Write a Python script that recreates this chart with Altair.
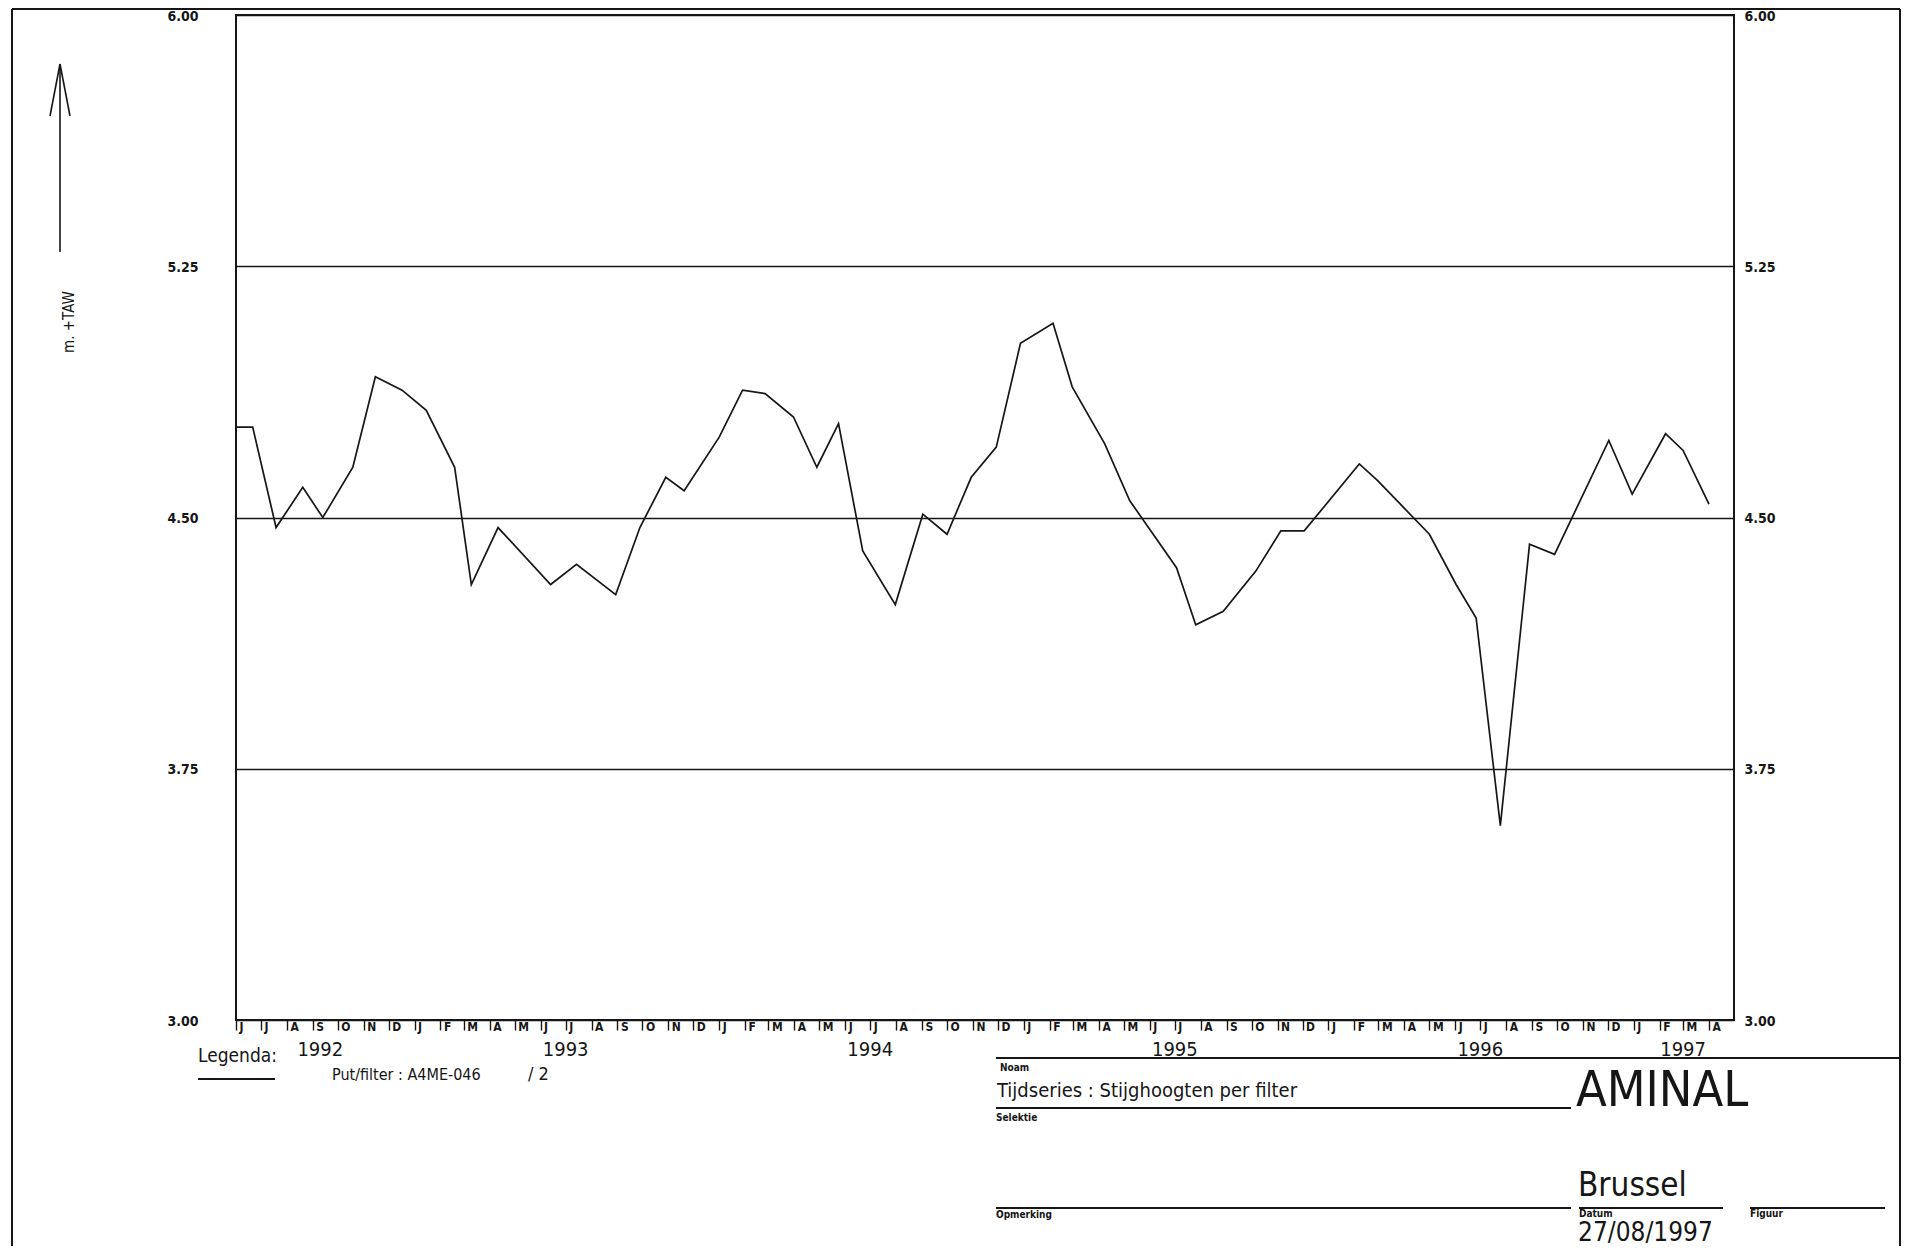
import json
import altair as alt
import pandas as pd

# ---------------- data ----------------
DATES = [
    "1992-06-01", "1992-06-21", "1992-07-19", "1992-08-20", "1992-09-13",
    "1992-10-19", "1992-11-15", "1992-12-17", "1993-01-15", "1993-02-18",
    "1993-03-10", "1993-04-11", "1993-06-13", "1993-07-14", "1993-08-30",
    "1993-09-28", "1993-10-29", "1993-11-20", "1994-01-01", "1994-01-29",
    "1994-02-25", "1994-03-31", "1994-04-28", "1994-05-24", "1994-06-22",
    "1994-07-31", "1994-09-02", "1994-10-01", "1994-10-30", "1994-11-29",
    "1994-12-28", "1995-02-05", "1995-02-28", "1995-04-08", "1995-05-08",
    "1995-07-03", "1995-07-26", "1995-08-28", "1995-10-06", "1995-11-05",
    "1995-12-03", "1996-02-07", "1996-02-29", "1996-03-31", "1996-05-01",
    "1996-06-02", "1996-06-26", "1996-07-25", "1996-08-29", "1996-09-28",
    "1996-12-02", "1996-12-30", "1997-02-08", "1997-03-01", "1997-04-01",
]
LEVELS = [
    4.77, 4.77, 4.47, 4.59, 4.50,
    4.65, 4.92, 4.88, 4.82, 4.65,
    4.30, 4.47, 4.30, 4.36, 4.27,
    4.47, 4.62, 4.58, 4.74, 4.88,
    4.87, 4.80, 4.65, 4.78, 4.40,
    4.24, 4.51, 4.45, 4.62, 4.71,
    5.02, 5.08, 4.89, 4.72, 4.55,
    4.35, 4.18, 4.22, 4.34, 4.46,
    4.46, 4.66, 4.61, 4.53, 4.45,
    4.30, 4.20, 3.58, 4.42, 4.39,
    4.73, 4.57, 4.75, 4.70, 4.54,
]
MONTH_LETTERS = ["J", "F", "M", "A", "M", "J", "J", "A", "S", "O", "N", "D"]
Y_TICKS = [3.00, 3.75, 4.50, 5.25, 6.00]
YEAR_LABELS = ["1992", "1993", "1994", "1995", "1996", "1997"]
YEAR_LABEL_AT = ["1992-09-10", "1993-07-01", "1994-07-01", "1995-07-01",
                 "1996-07-01", "1997-03-01"]
AXIS_START = (1992, 6)
AXIS_END = (1997, 5)

# ---------------- layout (page pixels) ----------------
INK = "#161616"
FONT = "Liberation Sans Narrow, DejaVu Sans Condensed, Arial Narrow, sans-serif"
PX0, PY0 = 236, 15          # page position of the plot's top-left corner
W, H = 1498, 1005
TOTAL_W, TOTAL_H = 1893, 1238
PAD = {"left": PX0 - 8, "top": PY0 - 8,
       "right": TOTAL_W - (PX0 - 8) - W, "bottom": TOTAL_H - (PY0 - 8) - H}


def px(x):
    return x - PX0


def py(y):
    return y - PY0


# month tick values
tick_values = []
y_, m_ = AXIS_START
while (y_, m_) < AXIS_END:
    tick_values.append(alt.DateTime(year=y_, month=m_, date=1, utc=True))
    m_ += 1
    if m_ > 12:
        m_, y_ = 1, y_ + 1

x_scale = alt.Scale(
    type="utc",
    domain=[alt.DateTime(year=AXIS_START[0], month=AXIS_START[1], date=1, utc=True),
            alt.DateTime(year=AXIS_END[0], month=AXIS_END[1], date=1, utc=True)],
)
y_scale = alt.Scale(domain=[3, 6], nice=False, zero=False)

df = pd.DataFrame({"date": DATES, "level": LEVELS})
years_df = pd.DataFrame({"date": YEAR_LABEL_AT, "label": YEAR_LABELS})

label_expr = json.dumps(MONTH_LETTERS) + "[utcmonth(datum.value)]"

X_AXIS = alt.Axis(values=tick_values, labelExpr=label_expr, orient="bottom",
                  tickSize=10, tickWidth=1.4, tickColor=INK,
                  labelPadding=-9, labelOffset=3, labelAlign="left",
                  labelBaseline="top",
                  labelFont=FONT, labelFontSize=12, labelFontWeight="bold",
                  labelColor=INK, labelOverlap=False, labelFlush=False,
                  domain=False, grid=False, title=None)


def x_enc():
    return alt.X("date:T", scale=x_scale, title=None, axis=X_AXIS)


line = alt.Chart(df).mark_line(color=INK, strokeWidth=1.7).encode(
    x=x_enc(),
    y=alt.Y("level:Q", scale=y_scale, title=None,
            axis=alt.Axis(values=Y_TICKS, format=".2f", orient="left", ticks=False,
                          tickSize=0, labelPadding=38, labelOffset=1,
                          labelFont=FONT, labelFontSize=14, labelFontWeight="bold",
                          labelColor=INK, domain=False, grid=True, gridColor=INK,
                          gridWidth=1.7, gridOpacity=1)),
)

right_axis = alt.Chart(df).mark_line(opacity=0).encode(
    x=x_enc(),
    y=alt.Y("level:Q", scale=y_scale, title=None,
            axis=alt.Axis(values=Y_TICKS, format=".2f", orient="right", ticks=False,
                          tickSize=0, labelPadding=10, labelOffset=1,
                          labelFont=FONT, labelFontSize=14, labelFontWeight="bold",
                          labelColor=INK, domain=False, grid=False)),
)

year_text = alt.Chart(years_df).mark_text(
    font=FONT, fontSize=20, color=INK, align="center", baseline="middle"
).encode(
    x=x_enc(),
    text="label:N",
    y=alt.value(py(1050)),
)

ONE = pd.DataFrame({"k": [0]})


def rule(x1, y1, x2, y2, w=1.8):
    return alt.Chart(ONE).mark_rule(color=INK, strokeWidth=w).encode(
        x=alt.value(px(x1)), x2=alt.value(px(x2)),
        y=alt.value(py(y1)), y2=alt.value(py(y2)))


def label(x, y, s, size, align="left", baseline="middle", weight="normal", angle=0):
    props = dict(text=s, fontSize=size, align=align, baseline=baseline,
                 font=FONT, fontWeight=weight, color=INK)
    if angle:
        props["angle"] = angle
    return alt.Chart(ONE).mark_text(**props).encode(
        x=alt.value(px(x)), y=alt.value(py(y)))


deco = [
    # page frame
    rule(12, 9, 1900, 9, 2),
    rule(12, 9, 12, 1246, 2),
    rule(1900, 9, 1900, 1246, 2),
    # vertical axis arrow and unit
    rule(60, 64, 60, 252, 1.6),
    rule(60, 64, 50, 116, 1.6),
    rule(60, 64, 70, 116, 1.6),
    label(69, 322, "m.  +TAW", 15, align="center", angle=270),
    # legend
    label(198, 1056, "Legenda:", 19),
    rule(198, 1079, 275, 1079, 1.8),
    label(332, 1075, "Put/filter : A4ME-046", 16),
    label(528, 1075, "/  2", 18),
    # title block
    rule(996, 1058, 1900, 1058, 2),
    label(1000, 1068, "Noam", 10, weight="bold"),
    label(997, 1091, "Tijdseries : Stijghoogten per filter", 20),
    rule(996, 1108, 1571, 1108, 2),
    label(996, 1118, "Selektie", 10, weight="bold"),
    label(1576, 1091, "AMINAL", 50),
    label(1578, 1186, "Brussel", 33),
    rule(996, 1208, 1571, 1208, 2),
    rule(1579, 1208, 1723, 1208, 2),
    rule(1750, 1208, 1885, 1208, 2),
    label(996, 1215, "Opmerking", 10, weight="bold"),
    label(1579, 1214, "Datum", 10, weight="bold"),
    label(1750, 1214, "Figuur", 10, weight="bold"),
    label(1578, 1246, "27/08/1997", 26, baseline="bottom"),
]

chart = alt.layer(line, right_axis, year_text, *deco).resolve_axis(
    y="independent"
).properties(
    width=W, height=H, padding=PAD,
    autosize=alt.AutoSizeParams(type="none"),
    background="white",
).configure_view(stroke=INK, strokeWidth=2)

chart.save("out.html", embed_options={"renderer": "svg", "actions": False})
